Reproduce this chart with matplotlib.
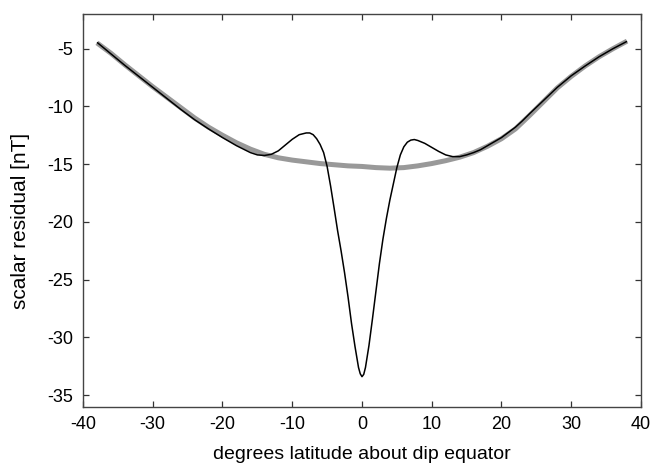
import matplotlib
matplotlib.use("Agg")
import matplotlib.pyplot as plt

plt.rcParams['font.family'] = ['Liberation Sans', 'DejaVu Sans']
plt.rcParams['axes.unicode_minus'] = False

# Latitude (deg about dip equator) and scalar residual (nT), smooth background model
lat_model = [-38, -36, -34, -32, -30, -28, -26, -24, -22, -20, -18, -16, -14,
             -12, -10, -8, -6, -4, -2, 0, 2, 4, 6, 8, 10, 12, 14, 16, 18,
             20, 22, 24, 26, 28, 30, 32, 34, 36, 38]
res_model = [-4.5, -5.4, -6.4, -7.35, -8.3, -9.2, -10.1, -11.0, -11.8, -12.5,
             -13.15, -13.7, -14.15, -14.45, -14.65, -14.8, -14.95, -15.05,
             -15.15, -15.2, -15.3, -15.35, -15.3, -15.15, -14.95, -14.7,
             -14.4, -14.0, -13.45, -12.8, -11.95, -10.8, -9.6, -8.4, -7.4,
             -6.5, -5.7, -5.0, -4.35]

# Residual including the equatorial electrojet signature
lat_eej = [-37.9, -36, -34, -32, -30, -28, -26, -24, -22, -20, -18, -16, -15,
           -14, -13, -12, -11, -10, -9, -8, -7.5, -7, -6.5, -6, -5.5, -5,
           -4.5, -4, -3.5, -3, -2.5, -2, -1.5, -1, -0.5, -0.25, 0, 0.25, 0.5,
           1, 1.5, 2, 2.5, 3, 3.5, 4, 4.5, 5, 5.5, 6, 6.5, 7, 7.5, 8, 9, 10,
           11, 12, 13, 14, 15, 16, 17, 18, 19, 20, 21, 22, 23, 24, 26, 28, 30,
           32, 34, 36, 37.9]
res_eej = [-4.5, -5.45, -6.45, -7.4, -8.35, -9.3, -10.25, -11.15, -11.95,
           -12.7, -13.4, -14.0, -14.2, -14.25, -14.15, -13.85, -13.35, -12.85,
           -12.45, -12.3, -12.3, -12.45, -12.8, -13.3, -14.0, -15.2, -16.9,
           -18.8, -20.75, -22.5, -24.4, -26.5, -28.8, -30.8, -32.6, -33.15,
           -33.4, -33.2, -32.6, -30.7, -28.4, -26.0, -23.6, -21.5, -19.7,
           -18.1, -16.7, -15.3, -14.2, -13.5, -13.1, -12.92, -12.87, -12.95,
           -13.2, -13.55, -13.9, -14.2, -14.35, -14.35, -14.2, -14.0, -13.75,
           -13.4, -13.05, -12.7, -12.25, -11.8, -11.25, -10.65, -9.5, -8.35,
           -7.35, -6.5, -5.7, -5.0, -4.4]

x_ticks = [-40, -30, -20, -10, 0, 10, 20, 30, 40]
y_ticks = [-35, -30, -25, -20, -15, -10, -5]

fig = plt.figure(figsize=(6.52, 4.63), dpi=100)
ax = fig.add_axes([0.1273, 0.1216, 0.8558, 0.8482])

ax.plot(lat_model, res_model, color='#999999', lw=3.6, solid_capstyle='butt')
ax.plot(lat_eej, res_eej, color='black', lw=1.1)

ax.set_xlim(-40, 40)
ax.set_ylim(-36, -2)
ax.set_xticks(x_ticks)
ax.set_yticks(y_ticks)

ax.tick_params(direction='in', length=4, width=0.9, color='#333333',
               top=True, right=True, labelsize=13, pad=7)
for sp in ax.spines.values():
    sp.set_color('#444444')
    sp.set_linewidth(1.0)

ax.set_xlabel('degrees latitude about dip equator', fontsize=14, labelpad=9)
ax.set_ylabel('scalar residual [nT]', fontsize=15)
ax.yaxis.set_label_coords(-0.095, 0.473)

fig.savefig('out.png', dpi=100)
